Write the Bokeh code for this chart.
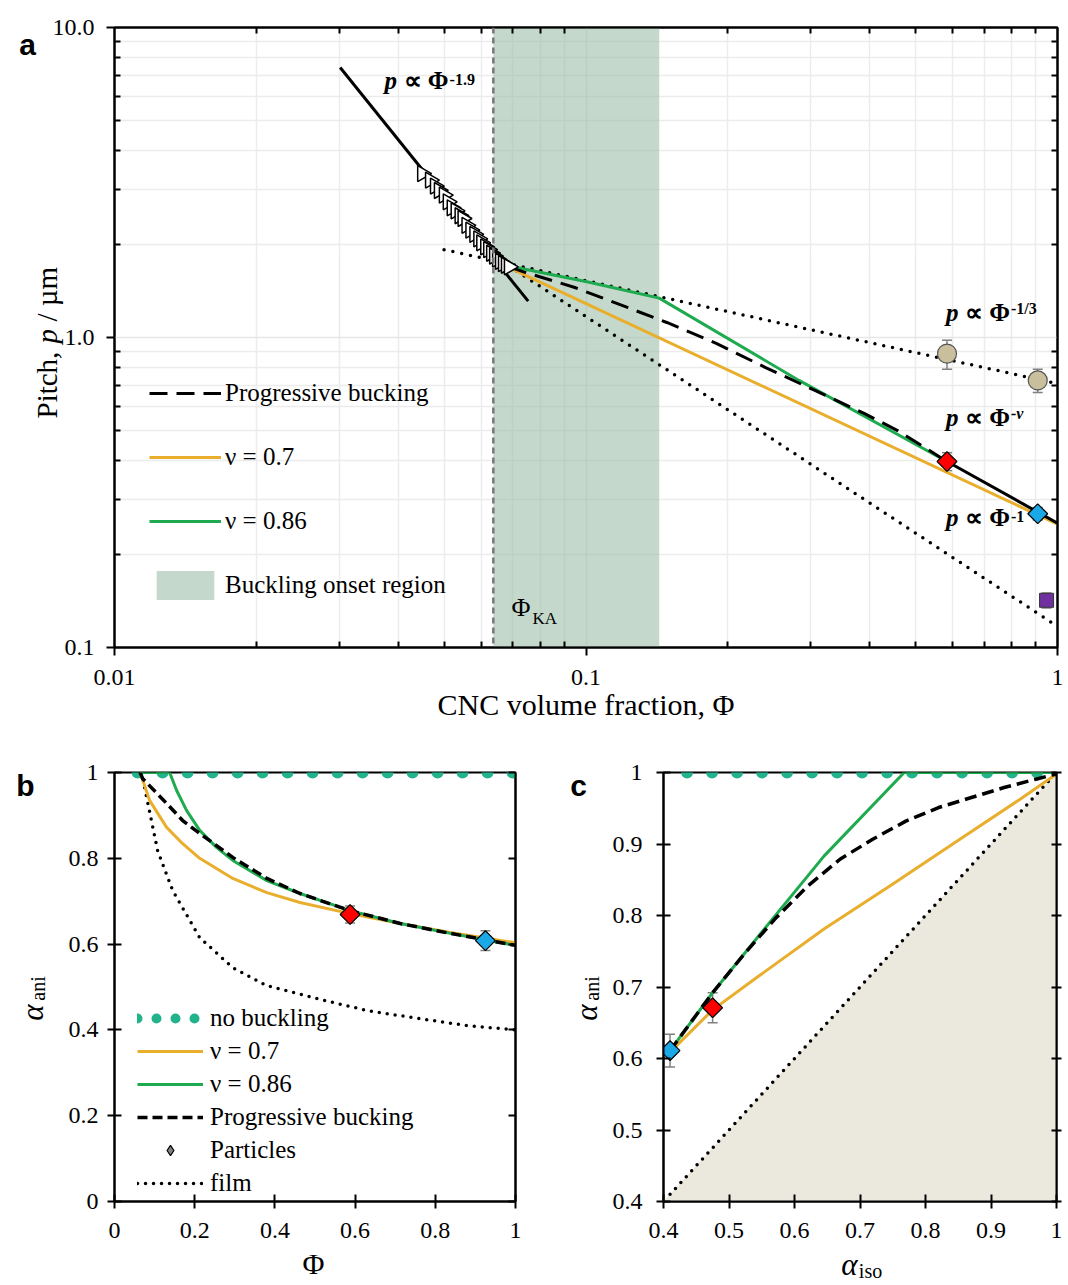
import math
from bokeh.plotting import figure
from bokeh.models import (FixedTicker, LogAxis, LinearAxis, Legend, LegendItem, Label,
                          Whisker, ColumnDataSource, TeeHead, Span, GridBox, Range1d)
from bokeh.embed import file_html
from bokeh.resources import INLINE

SERIF = "Liberation Serif"
SANS = "Liberation Sans"
YELLOW = "#e8ae2c"
GREEN = "#1eaa4e"
TEAL = "#22b38c"
SHADE = "#9cbfa8"
BEIGE = "#ebe8de"
GRAY = "#808080"
RED = "#ff0000"
BLUE = "#1ba8e6"
PURPLE = "#7030a0"
TAN = "#c9bf9c"

# ---------------- panel a data (pitch vs CNC volume fraction) ----------------
tri_phi = [0.04496, 0.04672, 0.04786, 0.04879, 0.04998, 0.05095, 0.05194, 0.05295,
           0.05398, 0.05477, 0.05583, 0.05691, 0.05802, 0.05915, 0.06001, 0.06118,
           0.06207, 0.06297, 0.06389, 0.06482, 0.06576, 0.06672, 0.06769, 0.06868]
tri_p = [3.38, 3.22, 3.08, 2.98, 2.88, 2.74, 2.62, 2.56, 2.47, 2.42, 2.30, 2.22,
         2.15, 2.08, 2.02, 1.96, 1.92, 1.87, 1.83, 1.79, 1.76, 1.73, 1.71, 1.69]
fit19_phi = [0.0301, 0.0754]
fit19_p = [7.43, 1.31]
third_phi = [0.05, 1.0]
third_p = [1.92, 0.71]
inv_phi = [0.0687, 1.0]
inv_p = [1.70, 0.117]
nu_phi = [0.583, 1.0]
nu_p = [0.398, 0.252]
y07_phi = [0.0687, 1.0]
y07_p = [1.68, 0.25]
g086_phi = [0.0687, 0.101, 0.143, 0.283, 0.583]
g086_p = [1.70, 1.51, 1.34, 0.727, 0.398]
prog_phi = [0.0687, 0.0745, 0.0947, 0.1224, 0.1484, 0.1889, 0.2404, 0.3058, 0.389, 0.458, 0.583]
prog_p = [1.69, 1.62, 1.45, 1.25, 1.118, 0.957, 0.80, 0.675, 0.569, 0.501, 0.398]
phi_ka = 0.0636
onset_end = 0.143
circ_phi = [0.583, 0.908]
circ_p = [0.887, 0.727]
circ_lo = [0.79, 0.665]
circ_hi = [0.98, 0.79]
part_phi = [0.583, 0.908]
part_p = [0.398, 0.270]
part_lo = [0.372, 0.258]
part_hi = [0.425, 0.283]
sq_phi = [0.948]
sq_p = [0.142]
sq_lo = [0.134]
sq_hi = [0.150]
PART_COLORS = [RED, BLUE]

# ---------------- panel b data (alpha_ani vs Phi) ----------------
nobuck_b_x = [0.0575, 1.0]
nobuck_b_y = [1.0, 1.0]
film_b_x = [0.064, 0.07, 0.1075, 0.145, 0.2125, 0.295, 0.38, 0.505, 0.63, 0.755, 0.88, 1.0]
film_b_y = [1.0, 0.988, 0.818, 0.725, 0.615, 0.545, 0.503, 0.473, 0.445, 0.427, 0.41, 0.40]
yel_b_x = [0.064, 0.0875, 0.13, 0.17, 0.2125, 0.295, 0.38, 0.4625, 0.5875, 0.7125, 0.8375, 1.0]
yel_b_y = [1.0, 0.935, 0.872, 0.834, 0.80, 0.753, 0.72, 0.697, 0.671, 0.648, 0.627, 0.603]
grn_b_x = [0.064, 0.1375, 0.155, 0.18, 0.2125, 0.255, 0.295, 0.38, 0.4625, 0.5875, 0.7125, 0.8375, 1.0]
grn_b_y = [1.0, 1.0, 0.958, 0.911, 0.865, 0.825, 0.795, 0.748, 0.718, 0.678, 0.648, 0.625, 0.597]
prg_b_x = [0.064, 0.07, 0.13, 0.17, 0.2125, 0.295, 0.38, 0.4625, 0.5875, 0.7125, 0.8375, 1.0]
prg_b_y = [1.0, 0.986, 0.928, 0.888, 0.858, 0.802, 0.753, 0.718, 0.678, 0.648, 0.625, 0.597]
part_b_x = [0.5875, 0.925]
part_b_y = [0.669, 0.608]
part_b_lo = [0.649, 0.585]
part_b_hi = [0.689, 0.631]

# ---------------- panel c data (alpha_ani vs alpha_iso) ----------------
nobuck_c_x = [0.436, 1.0]
nobuck_c_y = [1.0, 1.0]
diag_x = [0.4, 1.0]
diag_floor = [0.4, 0.4]
film_c_x = [0.41, 1.0]
film_c_y = [0.41, 1.0]
grn_c_x = [0.41, 0.475, 0.545, 0.645, 0.7675, 1.0]
grn_c_y = [0.611, 0.692, 0.771, 0.883, 1.0, 1.0]
prg_c_x = [0.41, 0.475, 0.525, 0.57, 0.62, 0.67, 0.72, 0.77, 0.82, 0.87, 0.92, 0.97, 1.0]
prg_c_y = [0.611, 0.692, 0.748, 0.795, 0.841, 0.879, 0.907, 0.932, 0.951, 0.965, 0.979, 0.991, 0.998]
yel_c_x = [0.41, 0.475, 0.545, 0.645, 0.745, 0.845, 0.945, 1.0]
yel_c_y = [0.609, 0.668, 0.715, 0.781, 0.841, 0.902, 0.963, 0.998]
part_c_x = [0.41, 0.475]
part_c_y = [0.611, 0.671]
part_c_lo = [0.588, 0.650]
part_c_hi = [0.634, 0.692]
PART_C_COLORS = [BLUE, RED]

# tick definitions
a_x_major = [0.01, 0.1, 1]
a_x_minor = [0.02, 0.03, 0.04, 0.05, 0.06, 0.07, 0.08, 0.09, 0.2, 0.3, 0.4, 0.5, 0.6, 0.7, 0.8, 0.9]
a_y_major = [0.1, 1, 10]
a_y_minor = [0.2, 0.3, 0.4, 0.5, 0.6, 0.7, 0.8, 0.9, 2, 3, 4, 5, 6, 7, 8, 9]
b_ticks = [0, 0.2, 0.4, 0.6, 0.8, 1]
c_ticks = [0.4, 0.5, 0.6, 0.7, 0.8, 0.9, 1]


def label(p, x, y, text, size, units="data", font=SERIF, style="normal", **kw):
    p.add_layout(Label(x=x, y=y, x_units=units, y_units=units, text=text, text_font=font,
                       text_font_size=f"{size}px", text_font_style=style, text_color="black", **kw))


def whisker(p, xs, lo, hi):
    src = ColumnDataSource(dict(x=xs, lo=lo, hi=hi))
    p.add_layout(Whisker(source=src, base="x", lower="lo", upper="hi", dimension="height",
                         line_color=GRAY, line_width=1.5,
                         lower_head=TeeHead(size=10, line_color=GRAY, line_width=1.5),
                         upper_head=TeeHead(size=10, line_color=GRAY, line_width=1.5)))


def style_axis(ax, size="24px", standoff=10):
    ax.axis_line_width = 2
    ax.axis_line_color = "black"
    ax.major_tick_line_width = 2
    ax.minor_tick_line_width = 2
    ax.major_tick_line_color = "black"
    ax.minor_tick_line_color = "black"
    ax.major_label_text_font = SERIF
    ax.major_label_text_font_size = size
    ax.major_label_text_color = "black"
    ax.major_label_standoff = standoff
    ax.axis_label_text_color = "black"


def hidden_axis(cls, ticker, tin, tout, minor_in=0):
    ax = cls(ticker=ticker)
    style_axis(ax)
    ax.major_label_text_font_size = "1px"
    ax.major_label_text_alpha = 0
    ax.major_label_standoff = 0
    ax.major_tick_in = tin
    ax.major_tick_out = tout
    ax.minor_tick_in = minor_in
    ax.minor_tick_out = 0
    return ax


# ======================= panel a =======================
pa = figure(x_axis_type="log", y_axis_type="log", x_range=(0.01, 1), y_range=(0.1, 10),
            frame_width=943, frame_height=620, min_border_left=113, min_border_right=10,
            min_border_top=27, min_border_bottom=88, output_backend="svg",
            toolbar_location=None, background_fill_color="white")
pa.outline_line_color = "black"
pa.outline_line_width = 2
ax_t = FixedTicker(ticks=a_x_major, minor_ticks=a_x_minor)
ay_t = FixedTicker(ticks=a_y_major, minor_ticks=a_y_minor)
pa.xaxis.ticker = ax_t
pa.yaxis.ticker = ay_t
pa.xgrid.ticker = ax_t
pa.ygrid.ticker = ay_t
for g in (pa.xgrid, pa.ygrid):
    g.grid_line_color = "#e6e6e6"
    g.grid_line_width = 1.5
    g.minor_grid_line_color = "#ececec"
    g.minor_grid_line_width = 1.5
for ax in pa.xaxis + pa.yaxis:
    style_axis(ax, standoff=14)
    ax.major_tick_in = 0
    ax.major_tick_out = 8
    ax.minor_tick_in = 6
    ax.minor_tick_out = 0
pa.xaxis.major_label_overrides = {0.01: "0.01", 0.1: "0.1", 1: "1"}
pa.yaxis.major_label_overrides = {0.1: "0.1", 1: "1.0", 10: "10.0"}
pa.yaxis.major_label_standoff = 12
pa.xaxis.axis_label = "CNC volume fraction, Φ"
pa.xaxis.axis_label_text_font = SERIF
pa.xaxis.axis_label_text_font_size = "30px"
pa.xaxis.axis_label_text_font_style = "normal"
pa.xaxis.axis_label_standoff = 0
pa.add_layout(hidden_axis(LogAxis, ax_t, 0, 0, 6), "above")
pa.add_layout(hidden_axis(LogAxis, ay_t, 0, 0, 6), "right")

r_onset = pa.quad(left=[phi_ka], right=[onset_end], bottom=[0.1], top=[10],
                  fill_color=SHADE, fill_alpha=0.6, line_color=None)
pa.add_layout(Span(location=phi_ka, dimension="height", line_color="#777777",
                   line_dash="6 4", line_width=2.5))
pa.line(third_phi, third_p, line_color="black", line_width=3.5, line_dash="0 9", line_cap="round")
pa.line(inv_phi, inv_p, line_color="black", line_width=3.5, line_dash="0 9", line_cap="round")
r_y07 = pa.line(y07_phi, y07_p, line_color=YELLOW, line_width=3)
r_g086 = pa.line(g086_phi, g086_p, line_color=GREEN, line_width=3)
r_prog = pa.line(prog_phi, prog_p, line_color="black", line_width=3, line_dash="18 9")
pa.line(nu_phi, nu_p, line_color="black", line_width=3)
pa.line(fit19_phi, fit19_p, line_color="black", line_width=3)
pa.scatter(tri_phi, tri_p, marker="triangle", angle=-math.pi / 2, size=16,
           fill_color="white", line_color="black", line_width=1.5)
whisker(pa, circ_phi, circ_lo, circ_hi)
whisker(pa, part_phi, part_lo, part_hi)
whisker(pa, sq_phi, sq_lo, sq_hi)
pa.scatter(circ_phi, circ_p, marker="circle", size=19, fill_color=TAN, line_color="#555555", line_width=1.2)
pa.scatter(part_phi, part_p, marker="square", angle=math.pi / 4, size=14,
           fill_color=PART_COLORS, line_color="black", line_width=1.2)
pa.scatter(sq_phi, sq_p, marker="square", size=14, fill_color=PURPLE, line_color="#333333", line_width=1)

leg_a = Legend(items=[LegendItem(label="Progressive bucking", renderers=[r_prog]),
                      LegendItem(label="ν = 0.7", renderers=[r_y07]),
                      LegendItem(label="ν = 0.86", renderers=[r_g086]),
                      LegendItem(label="Buckling onset region", renderers=[r_onset])],
               location=(35, 44), glyph_width=72, glyph_height=36, spacing=28, padding=0,
               margin=0, label_text_font=SERIF, label_text_font_size="25px",
               label_text_color="black", label_standoff=4, border_line_color=None,
               background_fill_alpha=0)
pa.add_layout(leg_a)


def formula(p, x, y, sup, sup_style="bold"):
    label(p, x, y, "p", 25, style="bold italic")
    label(p, x, y, "∝ Φ", 25, style="bold", x_offset=19)
    label(p, x, y, sup, 16, style=sup_style, x_offset=65, y_offset=9)


formula(pa, 0.0374, 6.12, "-1.9")
formula(pa, 0.58, 1.093, "-1/3")
formula(pa, 0.58, 0.501, "-ν", "bold italic")
formula(pa, 0.58, 0.2384, "-1")
label(pa, 0.0695, 0.121, "Φ", 26)
label(pa, 0.0695, 0.121, "KA", 17, x_offset=21, y_offset=-6)

# ======================= panel b =======================
pb = figure(x_range=(0, 1), y_range=(0, 1), frame_width=401, frame_height=429,
            min_border_left=114, min_border_right=25, min_border_top=37, min_border_bottom=82,
            output_backend="svg", toolbar_location=None)
pb.grid.visible = False
pb.outline_line_color = "black"
pb.outline_line_width = 2
bt = FixedTicker(ticks=b_ticks, minor_ticks=[])
pb.xaxis.ticker = bt
pb.yaxis.ticker = bt
for ax in pb.xaxis + pb.yaxis:
    style_axis(ax, standoff=14)
    ax.major_tick_in = 7
    ax.major_tick_out = 7
    ax.minor_tick_in = 0
    ax.minor_tick_out = 0
pb.yaxis.major_label_standoff = 9
bover = {0: "0", 0.2: "0.2", 0.4: "0.4", 0.6: "0.6", 0.8: "0.8", 1: "1"}
pb.xaxis.major_label_overrides = bover
pb.yaxis.major_label_overrides = bover
pb.add_layout(hidden_axis(LinearAxis, bt, 7, 0), "right")

pb.line(nobuck_b_x, nobuck_b_y, line_color=TEAL, line_width=12, line_dash="0 25", line_cap="round")
r_film = pb.line(film_b_x, film_b_y, line_color="black", line_width=3.5, line_dash="0 8", line_cap="round")
r_yb = pb.line(yel_b_x, yel_b_y, line_color=YELLOW, line_width=3)
r_gb = pb.line(grn_b_x, grn_b_y, line_color=GREEN, line_width=3)
r_pb = pb.line(prg_b_x, prg_b_y, line_color="black", line_width=3.5, line_dash="10 5")
whisker(pb, part_b_x, part_b_lo, part_b_hi)
pb.scatter(part_b_x, part_b_y, marker="square", angle=math.pi / 4, size=14,
           fill_color=PART_COLORS, line_color="black", line_width=1.2)
# legend-only renderers (hidden in the plot)
r_nb_leg = pb.line(nobuck_b_x, nobuck_b_y, line_color=TEAL, line_width=10, line_dash="0 19",
                   line_cap="round", visible=False)
r_part_leg = pb.scatter(part_b_x, part_b_y, marker="diamond", size=18,
                        fill_color=GRAY, line_color="black", line_width=1.2, visible=False)
leg_b = Legend(items=[LegendItem(label="no buckling", renderers=[r_nb_leg]),
                      LegendItem(label="ν = 0.7", renderers=[r_yb]),
                      LegendItem(label="ν = 0.86", renderers=[r_gb]),
                      LegendItem(label="Progressive bucking", renderers=[r_pb]),
                      LegendItem(label="Particles", renderers=[r_part_leg]),
                      LegendItem(label="film", renderers=[r_film])],
               location=(23, 4), glyph_width=66, glyph_height=26, spacing=5, padding=0,
               margin=0, label_text_font=SERIF, label_text_font_size="25px",
               label_text_color="black", label_standoff=7, border_line_color=None,
               background_fill_alpha=0, inactive_fill_alpha=0)
pb.add_layout(leg_b)

# ======================= panel c =======================
pc = figure(x_range=(0.4, 1), y_range=(0.4, 1), frame_width=393, frame_height=429,
            min_border_left=123, min_border_right=10, min_border_top=37, min_border_bottom=82,
            output_backend="svg", toolbar_location=None)
pc.grid.visible = False
pc.outline_line_color = "black"
pc.outline_line_width = 2
ct = FixedTicker(ticks=c_ticks, minor_ticks=[])
pc.xaxis.ticker = ct
pc.yaxis.ticker = ct
for ax in pc.xaxis + pc.yaxis:
    style_axis(ax, standoff=14)
    ax.major_tick_in = 7
    ax.major_tick_out = 7
    ax.minor_tick_in = 0
    ax.minor_tick_out = 0
pc.yaxis.major_label_standoff = 14
cover = {0.4: "0.4", 0.5: "0.5", 0.6: "0.6", 0.7: "0.7", 0.8: "0.8", 0.9: "0.9", 1: "1"}
pc.xaxis.major_label_overrides = cover
pc.yaxis.major_label_overrides = cover
pc.add_layout(hidden_axis(LinearAxis, ct, 5, 5), "right")

pc.varea(x=diag_x, y1=diag_floor, y2=diag_x, fill_color=BEIGE)
pc.line(film_c_x, film_c_y, line_color="black", line_width=3.5, line_dash="0 8", line_cap="round")
pc.line(nobuck_c_x, nobuck_c_y, line_color=TEAL, line_width=12, line_dash="0 25", line_cap="round")
pc.line(yel_c_x, yel_c_y, line_color=YELLOW, line_width=3)
pc.line(grn_c_x, grn_c_y, line_color=GREEN, line_width=3)
pc.line(prg_c_x, prg_c_y, line_color="black", line_width=3.5, line_dash="12 6")
whisker(pc, part_c_x, part_c_lo, part_c_hi)
pc.scatter(part_c_x, part_c_y, marker="square", angle=math.pi / 4, size=14,
           fill_color=PART_C_COLORS, line_color="black", line_width=1.2)

# ======================= text overlay (page pixel coordinates) =======================
W, H = 1066, 1283
ov = figure(width=W, height=H, x_range=Range1d(0, W), y_range=Range1d(H, 0), min_border=0,
            output_backend="svg", toolbar_location=None, x_axis_location=None, y_axis_location=None)
ov.frame_align = False
ov.grid.visible = False
ov.outline_line_color = None
ov.background_fill_alpha = 0
ov.border_fill_alpha = 0
rot = dict(angle=90, angle_units="deg", text_align="left", text_baseline="alphabetic")
rotc = dict(angle=90, angle_units="deg", text_align="center", text_baseline="middle")
mid = dict(text_align="center", text_baseline="middle")
# panel letters
label(ov, 27, 44, "a", 30, font=SANS, style="bold", **mid)
label(ov, 25, 785, "b", 30, font=SANS, style="bold", **mid)
label(ov, 578, 785, "c", 30, font=SANS, style="bold", **mid)
# panel a y label: Pitch, p / µm
label(ov, 46, 418, "Pitch,", 29, **rot)
label(ov, 46, 343, "p", 29, style="italic", **rot)
label(ov, 46, 321, "/ µm", 29, **rot)
# panel b, c y labels: alpha_ani
label(ov, 32, 1012, "α", 31, style="italic", **rotc)
label(ov, 37, 988, "ani", 20, **rotc)
label(ov, 586, 1012, "α", 31, style="italic", **rotc)
label(ov, 591, 988, "ani", 20, **rotc)
# panel b x label Phi, panel c x label alpha_iso
label(ov, 313, 1263, "Φ", 30, **mid)
label(ov, 849, 1264, "α", 31, style="italic", **mid)
label(ov, 870, 1270, "iso", 20, **mid)

grid = GridBox(children=[(pa, 0, 0, 1, 2), (pb, 1, 0), (pc, 1, 1), (ov, 0, 0, 2, 2)])
open("out.html", "w").write(file_html(grid, INLINE))
